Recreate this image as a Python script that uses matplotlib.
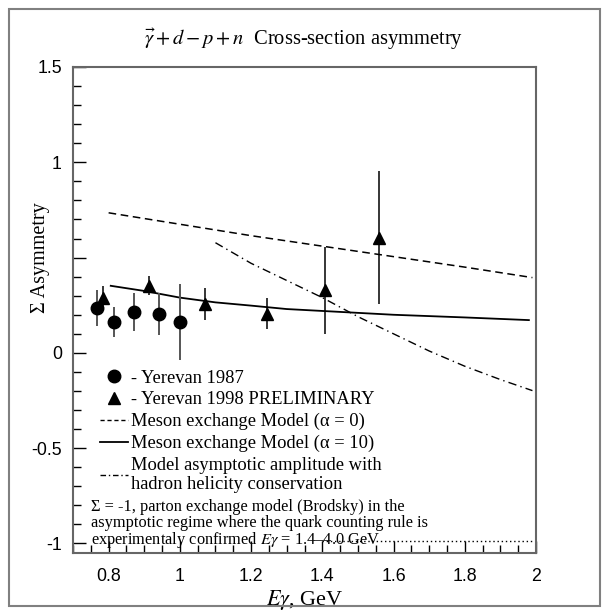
import matplotlib
matplotlib.use('Agg')
import matplotlib.pyplot as plt
from matplotlib.lines import Line2D
from matplotlib.patches import Rectangle

plt.rcParams['mathtext.fontset'] = 'stix'

# Yerevan 1987 (circles)
e87 = [0.768, 0.815, 0.871, 0.942, 1.001]
s87 = [0.236, 0.161, 0.213, 0.206, 0.161]
err87 = [0.095, 0.078, 0.10, 0.11, 0.20]

# Yerevan 1998 preliminary (triangles)
e98 = [0.784, 0.914, 1.071, 1.244, 1.408, 1.560]
s98 = [0.288, 0.352, 0.258, 0.206, 0.328, 0.605]
err98 = [0.065, 0.05, 0.085, 0.083, 0.23, 0.35]

# meson exchange model, alpha = 0
e_m0 = [0.80, 1.0, 1.2, 1.4, 1.6, 1.8, 1.99]
s_m0 = [0.735, 0.675, 0.615, 0.56, 0.505, 0.45, 0.395]

# meson exchange model, alpha = 10
e_m10 = [0.806, 0.9, 1.0, 1.1, 1.2, 1.3, 1.4, 1.5, 1.6, 1.8, 1.98]
s_m10 = [0.352, 0.325, 0.29, 0.265, 0.248, 0.23, 0.22, 0.21, 0.2, 0.186, 0.172]

# asymptotic amplitude with hadron helicity conservation
e_hhc = [1.10, 1.2, 1.3, 1.4, 1.5, 1.6, 1.7, 1.8, 1.9, 1.99]
s_hhc = [0.578, 0.47, 0.38, 0.29, 0.19, 0.10, 0.01, -0.07, -0.14, -0.198]

# parton exchange (Brodsky), Sigma = -1
e_pex = [1.4, 1.99]
s_pex = [-0.985, -0.985]

serif = 'Liberation Serif'
sans = 'Liberation Sans'

fig = plt.figure(figsize=(6.09, 6.14), dpi=100)
ax = fig.add_axes([73 / 609, 1 - 553 / 614, 463 / 609, 486 / 614])

# outer frame round the whole picture
fig.patches.append(Rectangle((9 / 609, 1 - 606 / 614), 591 / 609, 597 / 614,
                             transform=fig.transFigure, fill=False,
                             edgecolor='#808080', lw=1.5))

ax.plot(e_m0, s_m0, color='black', lw=1.1, ls=(0, (5, 3)))
ax.plot(e_m10, s_m10, color='black', lw=1.3)
ax.plot(e_hhc, s_hhc, color='black', lw=1.0, ls=(0, (6, 3, 1, 3)))
ax.plot(e_pex, s_pex, color='black', lw=1.0, ls=(0, (1, 2)))

ax.errorbar(e87, s87, yerr=err87, fmt='o', color='black', ecolor='#555555',
            ms=9, elinewidth=1.4, capsize=0)
ax.errorbar(e98, s98, yerr=err98, fmt='^', color='black', ecolor='black',
            ms=8, elinewidth=1.1, capsize=0)

ax.set_xlim(0.7, 2.0)
ax.set_ylim(-1.05, 1.5)
ax.set_xticks([0.8, 1.0, 1.2, 1.4, 1.6, 1.8, 2.0])
ax.set_xticklabels(['0.8', '1', '1.2', '1.4', '1.6', '1.8', '2'])
ax.set_yticks([-1, -0.5, 0, 0.5, 1, 1.5])
ax.set_yticklabels(['-1', '-0.5', '0', '', '1', '1.5'])
ax.set_xticks([0.7 + 0.05 * i for i in range(27)], minor=True)
ax.set_yticks([-1.0 + 0.1 * i for i in range(26)], minor=True)
ax.tick_params(which='both', direction='in', top=False, right=False,
               labelsize=12.8, width=1.0)
ax.tick_params(which='major', length=9)
ax.tick_params(which='minor', length=6)
ax.tick_params(axis='y', pad=8)
ax.tick_params(axis='x', pad=11)
for t in ax.get_xticklabels() + ax.get_yticklabels():
    t.set_fontfamily(sans)
for sp in ax.spines.values():
    sp.set_color('#666666')
    sp.set_linewidth(1.5)

ax.set_xlabel(r'$E\gamma$, GeV', fontsize=16, family=serif, labelpad=2)
ax.set_ylabel('Σ Asymmetry', fontsize=14.5, family=serif)
ax.yaxis.set_label_coords(-0.05, 0.608)

fig.text(304 / 609, 0.935, r'$\vec{\gamma} + d - p + n$  Cross-section asymmetry',
         ha='center', va='center', fontsize=14.8, family=serif)

handles = [
    Line2D([], [], marker='o', color='black', ls='none', ms=9),
    Line2D([], [], marker='^', color='black', ls='none', ms=8),
    Line2D([], [], color='black', lw=1.0, ls=(0, (3, 2))),
    Line2D([], [], color='black', lw=1.3),
    Line2D([], [], color='black', lw=1.0, ls=(0, (4, 2, 1, 2))),
]
labels = ['- Yerevan 1987', '- Yerevan 1998 PRELIMINARY',
          'Meson exchange Model (α = 0)',
          'Meson exchange Model (α = 10)',
          'Model asymptotic amplitude with\nhadron helicity conservation']
leg = ax.legend(handles, labels, loc='upper left', bbox_to_anchor=(0.058, 0.377),
                frameon=False, prop={'family': serif, 'size': 13.3},
                handlelength=1.5, handletextpad=0.2, labelspacing=0.25,
                borderaxespad=0, borderpad=0)

ax.text(0.039, 0.058,
        'Σ = -1, parton exchange model (Brodsky) in the\n'
        'asymptotic regime where the quark counting rule is\n'
        r'experimentaly confirmed $E\gamma$ = 1.4–4.0 GeV',
        transform=ax.transAxes, ha='left', va='center', fontsize=11.8,
        family=serif, linespacing=0.95)

fig.savefig('out.png', dpi=100)
